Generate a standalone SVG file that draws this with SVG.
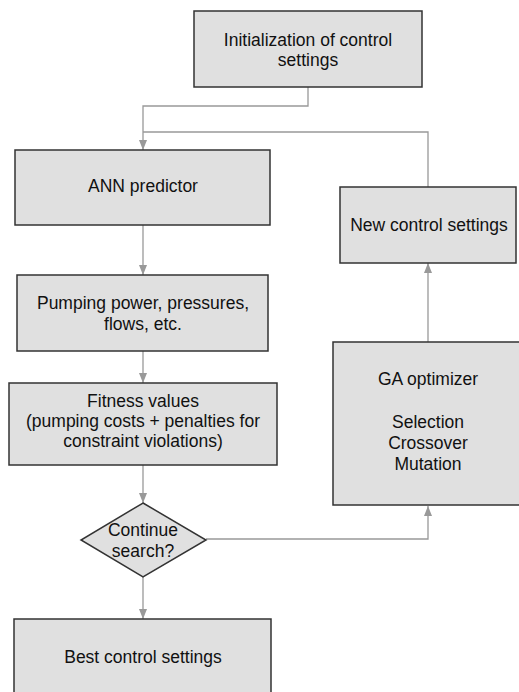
<svg xmlns="http://www.w3.org/2000/svg" width="519" height="692" viewBox="0 0 519 692">
<style>
.box{fill:#e0e0e0;stroke:#333;stroke-width:1.5}
.t{font-family:"Liberation Sans",Arial,sans-serif;font-size:17.5px;fill:#111;text-anchor:middle}
.c{fill:none;stroke:#999;stroke-width:1.3}
</style>
<defs>
<marker id="ah" viewBox="0 0 10 10" refX="10" refY="5" markerWidth="10" markerHeight="10" markerUnits="userSpaceOnUse" orient="auto">
<path d="M0,1 L10,5 L0,9 Z" fill="#999"/>
</marker>
</defs>
<g id="connectors">
<path class="c" d="M308,87 V106 H143 V150" marker-end="url(#ah)"/>
<path class="c" d="M428,187 V132 H143"/>
<path class="c" d="M143,225 V275" marker-end="url(#ah)"/>
<path class="c" d="M143,351 V383" marker-end="url(#ah)"/>
<path class="c" d="M143,465 V503" marker-end="url(#ah)"/>
<path class="c" d="M143,577 V619" marker-end="url(#ah)"/>
<path class="c" d="M206,539 H428 V506" marker-end="url(#ah)"/>
<path class="c" d="M428,342 V263" marker-end="url(#ah)"/>
</g>
<g id="init">
<rect class="box" x="194" y="11" width="228" height="76"/>
<text class="t" x="308" y="45.5">Initialization of control</text>
<text class="t" x="308" y="65.5">settings</text>
</g>
<g id="ann">
<rect class="box" x="15" y="150" width="255" height="75"/>
<text class="t" x="143" y="192">ANN predictor</text>
</g>
<g id="pumping">
<rect class="box" x="17" y="275" width="251" height="76"/>
<text class="t" x="143" y="309">Pumping power, pressures,</text>
<text class="t" x="143" y="330">flows, etc.</text>
</g>
<g id="fitness">
<rect class="box" x="9" y="383" width="268" height="82"/>
<text class="t" x="143" y="407">Fitness values</text>
<text class="t" x="143" y="427">(pumping costs + penalties for</text>
<text class="t" x="143" y="447">constraint violations)</text>
</g>
<g id="decision">
<path class="box" d="M143,503 L206,540 L143,577 L81,540 Z"/>
<text class="t" x="143" y="536">Continue</text>
<text class="t" x="143" y="557">search?</text>
</g>
<g id="best">
<rect class="box" x="14" y="619" width="257" height="80"/>
<text class="t" x="143" y="663">Best control settings</text>
</g>
<g id="newctrl">
<rect class="box" x="340" y="187" width="176" height="76"/>
<text class="t" x="429" y="231">New control settings</text>
</g>
<g id="ga">
<rect class="box" x="333" y="342" width="192" height="163"/>
<text class="t" x="428" y="385">GA optimizer</text>
<text class="t" x="428" y="428">Selection</text>
<text class="t" x="428" y="449">Crossover</text>
<text class="t" x="428" y="470">Mutation</text>
</g>
</svg>
